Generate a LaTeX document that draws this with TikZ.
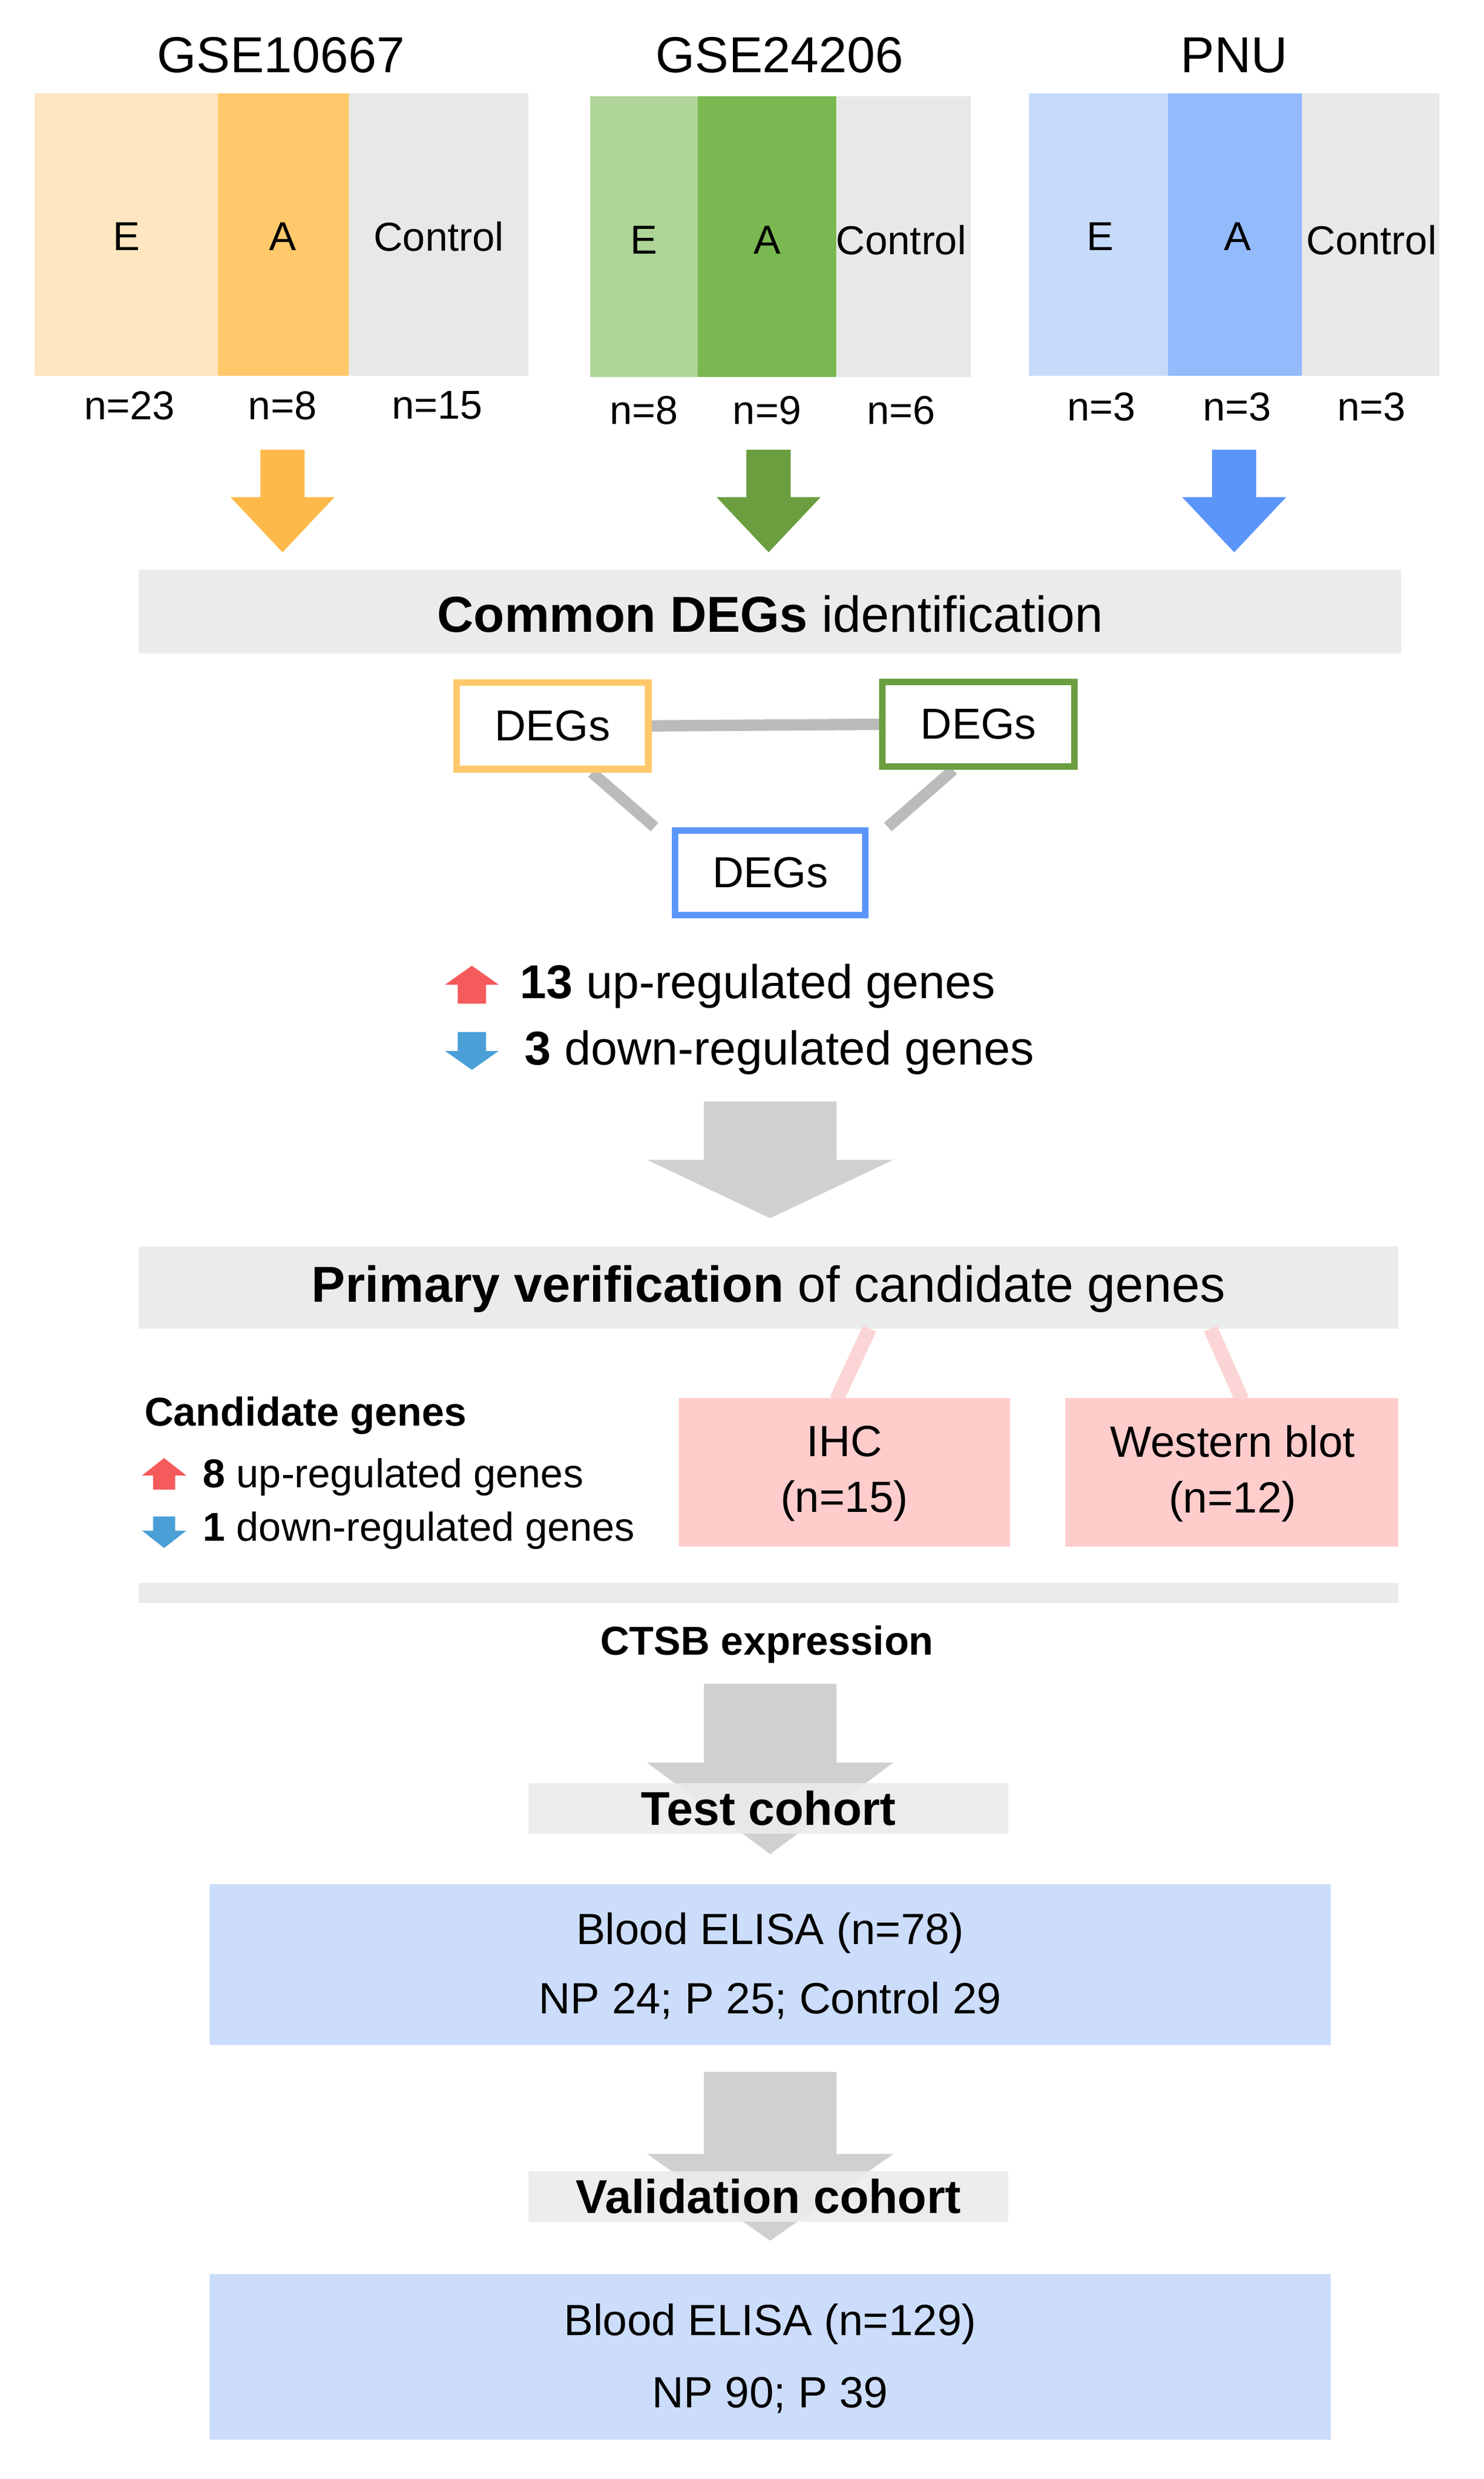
\documentclass[tikz,border=0pt]{standalone}
\usepackage{fontspec}
\setmainfont{Liberation Sans}
\definecolor{oL}{HTML}{FDE6C0}\definecolor{oA}{HTML}{FFC96B}\definecolor{oAr}{HTML}{FDBA4A}
\definecolor{gL}{HTML}{AED597}\definecolor{gA}{HTML}{7AB851}\definecolor{gAr}{HTML}{6A9E3F}
\definecolor{bL}{HTML}{C6DBFA}\definecolor{bA}{HTML}{93BBFB}\definecolor{bAr}{HTML}{5B95F9}
\definecolor{ctl}{HTML}{E8E8E8}\definecolor{barc}{HTML}{EBEBEB}\definecolor{bigg}{HTML}{D0D0D0}
\definecolor{pink}{HTML}{FFCCCC}\definecolor{pinkl}{HTML}{FBD5D5}\definecolor{blu}{HTML}{CCDDFB}
\definecolor{upr}{HTML}{F55B5B}\definecolor{dnb}{HTML}{4A9FD6}\definecolor{lin}{HTML}{BBBBBB}
\newcommand{\blockarrow}[7]{% cx, y0, yhead, ytip, halfshaft, halfhead, color
 \fill[#7] (#1-#5,#2) -- (#1+#5,#2) -- (#1+#5,#3) -- (#1+#6,#3) -- (#1,#4) -- (#1-#6,#3) -- (#1-#5,#3) -- cycle;}
\begin{document}
\begin{tikzpicture}[x=0.02687cm,y=-0.02687cm,
 ttl/.style={font=\fontsize{24.5}{28}\selectfont},
 lab/.style={font=\fontsize{19.6}{23}\selectfont},
 nl/.style={font=\fontsize{19.5}{22}\selectfont},
 bigt/.style={font=\fontsize{24.5}{28}\selectfont},
 mid/.style={font=\fontsize{23}{27}\selectfont},
 sm/.style={font=\fontsize{19.5}{22}\selectfont},
 box/.style={font=\fontsize{21.2}{25}\selectfont},
 deg/.style={draw,line width=3.2pt,fill=white,font=\fontsize{21}{24}\selectfont,inner sep=0pt},
 conn/.style={draw=lin,line width=5.5pt}]
\useasboundingbox (0,0) rectangle (940,1571);
% titles
\node[ttl] (t1) at (178,35) {GSE10667};
\node[ttl] (t2) at (494,35) {GSE24206};
\node[ttl] (t3) at (782,35) {PNU};
% panel 1
\fill[oL] (22,59) rectangle (138,238); \fill[oA] (138,59) rectangle (221,238); \fill[ctl] (221,59) rectangle (335,238);
\node[lab] at (80,150) {E}; \node[lab] at (179,150) {A}; \node[lab] at (278,150) {Control};
\node[nl] at (82,257) {n=23}; \node[nl] at (179,257) {n=8}; \node[nl] at (277,257) {n=15};
% panel 2
\fill[gL] (374,61) rectangle (442,239); \fill[gA] (442,61) rectangle (530,239); \fill[ctl] (530,61) rectangle (615,239);
\node[lab] at (408,152) {E}; \node[lab] at (486,152) {A}; \node[lab] at (571,152) {Control};
\node[nl] at (408,260) {n=8}; \node[nl] at (486,260) {n=9}; \node[nl] at (571,260) {n=6};
% panel 3
\fill[bL] (652,59) rectangle (740,238); \fill[bA] (740,59) rectangle (825,238); \fill[ctl] (825,59) rectangle (912,238);
\node[lab] at (697,150) {E}; \node[lab] at (784,150) {A}; \node[lab] at (869,152) {Control};
\node[nl] at (698,258) {n=3}; \node[nl] at (784,258) {n=3}; \node[nl] at (869,258) {n=3};
% arrows
\blockarrow{179}{285}{315}{350}{14}{33}{oAr}
\blockarrow{487}{285}{315}{350}{14}{33}{gAr}
\blockarrow{782}{285}{315}{350}{14}{33}{bAr}
% common DEGs bar
\fill[barc] (88,361) rectangle (888,414);
\node[bigt] (cd) at (488,389) {\textbf{Common DEGs} identification};
% DEGs
\node[deg,draw=oA,minimum width=93pt,minimum height=42pt] (d1) at (350,460) {DEGs};
\node[deg,draw=gAr,minimum width=93pt,minimum height=41pt] (d2) at (620,459) {DEGs};
\node[deg,draw=bAr,minimum width=92pt,minimum height=41pt] (d3) at (488,553) {DEGs};
\draw[conn] (d1.east) -- (d2.west);
\draw[conn] (d1.south) ++(25,0) -- ([xshift=-56]d3.north);
\draw[conn] (d2.south) ++(-16,0) -- ([xshift=57]d3.north);
\node[deg,draw=oA,minimum width=93pt,minimum height=42pt] at (350,460) {DEGs};
\node[deg,draw=gAr,minimum width=93pt,minimum height=41pt] at (620,459) {DEGs};
\node[deg,draw=bAr,minimum width=92pt,minimum height=41pt] at (488,553) {DEGs};
% up/down
\fill[upr] (290,636) -- (290,624) -- (282,624) -- (299,612) -- (316,624) -- (308,624) -- (308,636) -- cycle;
\fill[dnb] (290,654) -- (290,666) -- (282,666) -- (299,678) -- (316,666) -- (308,666) -- (308,654) -- cycle;
\node[mid,anchor=west] (u1) at (325,625) {\textbf{13} up-regulated genes};
\node[mid,anchor=west] (u2) at (328,667) {\textbf{3} down-regulated genes};
% big arrow 1
\blockarrow{488}{698}{735}{772}{42}{78}{bigg}
% primary verification
\fill[barc] (88,790) rectangle (886,842);
\node[bigt] (pv) at (487,817) {\textbf{Primary verification} of candidate genes};
\draw[draw=pinkl,line width=7pt] (551,842) -- (530,887);
\draw[draw=pinkl,line width=7pt] (767,842) -- (787,887);
\fill[pink] (430,886) rectangle (640,980);
\fill[pink] (675,886) rectangle (886,980);
\node[box,align=center] (ihc) at (535,934) {IHC\\[2pt](n=15)};
\node[box,align=center] (wb) at (781,934) {Western blot\\[2pt](n=12)};
\node[sm,anchor=west] (cg) at (87,897) {\textbf{Candidate genes}};
\fill[upr] (97,944) -- (97,935) -- (90,935) -- (104,924) -- (118,935) -- (111,935) -- (111,944) -- cycle;
\fill[dnb] (97,961) -- (97,970) -- (90,970) -- (104,981) -- (118,970) -- (111,970) -- (111,961) -- cycle;
\node[sm,anchor=west] (c1) at (124,936) {\textbf{8} up-regulated genes};
\node[sm,anchor=west] (c2) at (124,970) {\textbf{1} down-regulated genes};
\fill[barc] (88,1003) rectangle (886,1016);
\node[font=\fontsize{19.5}{22}\selectfont\bfseries] (ctsb) at (486,1042) {CTSB expression};
% arrow 2 + test cohort
\blockarrow{488}{1067}{1117}{1175}{42}{78}{bigg}
\fill[barc,opacity=0.92] (335,1130) rectangle (639,1162);
\node[mid] (tc) at (487,1146) {\textbf{Test cohort}};
\fill[blu] (133,1194) rectangle (843,1296);
\node[box] (b1) at (488,1225) {Blood ELISA (n=78)};
\node[box] (b2) at (488,1268) {NP 24; P 25; Control 29};
% arrow 3 + validation
\blockarrow{488}{1313}{1365}{1420}{42}{78}{bigg}
\fill[barc,opacity=0.92] (335,1376) rectangle (639,1408);
\node[mid] (vc) at (487,1392) {\textbf{Validation cohort}};
\fill[blu] (133,1441) rectangle (843,1546);
\node[box] (v1) at (488,1473) {Blood ELISA (n=129)};
\node[box] (v2) at (488,1518) {NP 90; P 39};
\end{tikzpicture}
\end{document}
